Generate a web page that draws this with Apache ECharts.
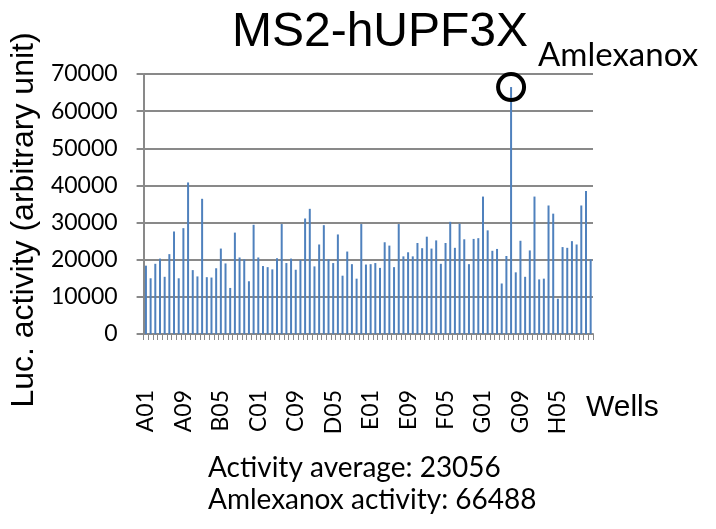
<!DOCTYPE html>
<html>
<head>
<meta charset="utf-8">
<script src="https://cdn.jsdelivr.net/npm/echarts@6/dist/echarts.min.js"></script>
<style>
  html, body { margin: 0; padding: 0; background: #fff; }
  #main { width: 716px; height: 529px; }
</style>
</head>
<body>
<div id="main"></div>
<script>
// plate layout: rows A-H, columns 01-12
var rows = ['A', 'B', 'C', 'D', 'E', 'F', 'G', 'H'];
var cols = ['01', '02', '03', '04', '05', '06', '07', '08', '09', '10', '11', '12'];
var wells = [];
rows.forEach(function (r) {
    cols.forEach(function (c) { wells.push(r + c); });
});

// luciferase activity per well
var activity = [
    18400, 15000, 18900, 20300, 15400, 21500, 27600, 15000, 28500, 40800, 17200, 15500,
    36400, 15300, 15200, 17700, 23000, 19000, 12400, 27300, 20600, 20100, 14200, 29400,
    20600, 18300, 18000, 17400, 20400, 29600, 19100, 20300, 17300, 19900, 31100, 33700,
    18200, 24100, 29300, 20100, 19100, 26800, 15700, 22200, 18800, 14900, 29600, 18700,
    18800, 19100, 17800, 24700, 23800, 18000, 29600, 20900, 22000, 20900, 24500, 23100,
    26200, 23000, 25200, 18900, 24500, 30200, 23200, 29700, 25500, 18800, 25600, 25800,
    37000, 27900, 22400, 22900, 13600, 21000, 66488, 16600, 25100, 15400, 22500, 37000,
    14700, 14900, 34600, 32400, 9500, 23400, 23200, 25000, 24100, 34600, 38500, 20100
];

var hitWell = 'G07';
var hitName = 'Amlexanox';
var averageText = 'Activity average: 23056';
var hitText = 'Amlexanox activity: 66488';

var yTicks = { min: 0, max: 70000, interval: 10000 };

var grey = '#898989';
var chart = echarts.init(document.getElementById('main'));

chart.setOption({
    animation: false,
    title: {
        text: 'MS2-hUPF3X',
        left: 375,
        top: 4,
        textAlign: 'center',
        textStyle: { fontFamily: 'Liberation Sans', fontSize: 48, fontWeight: 'normal', color: '#000' }
    },
    grid: { left: 143, right: 123, top: 74, bottom: 195 },
    xAxis: {
        type: 'category',
        data: wells,
        axisLine: { lineStyle: { color: grey, width: 2 } },
        axisTick: { show: true, interval: 0, length: 6, lineStyle: { color: grey, width: 1 } },
        axisLabel: {
            interval: 7,
            rotate: 90,
            margin: 56,
            fontFamily: 'Lato',
            fontSize: 23,
            color: '#000'
        }
    },
    yAxis: {
        type: 'value',
        min: yTicks.min,
        max: yTicks.max,
        interval: yTicks.interval,
        name: 'Luc. activity (arbitrary unit)',
        nameLocation: 'middle',
        nameGap: 101,
        nameTextStyle: { fontFamily: 'Liberation Sans', fontSize: 32, color: '#000', padding: [0, 32, 0, 0] },
        axisLine: { show: true, lineStyle: { color: grey, width: 2 } },
        axisTick: { show: true, length: 7, lineStyle: { color: grey, width: 2 } },
        axisLabel: {
            margin: 26, fontFamily: 'Lato', fontSize: 23, color: '#000',
            formatter: function (v) { return String(v); }
        },
        splitLine: { lineStyle: { color: grey, width: 2 } }
    },
    series: [{
        type: 'bar',
        data: activity,
        barWidth: 2,
        itemStyle: { color: '#4f81bd' },
        markPoint: {
            symbol: 'circle',
            symbolSize: 26,
            label: { show: false },
            itemStyle: { color: 'rgba(0,0,0,0)', borderColor: '#000', borderWidth: 4 },
            data: [{ coord: [hitWell, activity[wells.indexOf(hitWell)]] }]
        }
    }],
    graphic: [
        {
            type: 'text',
            style: { text: 'Wells', x: 586, y: 408, textVerticalAlign: 'middle', font: '30px "Liberation Sans"', fill: '#000' }
        },
        {
            type: 'text',
            style: { text: hitName, x: 538, y: 55, textVerticalAlign: 'middle', font: '33px Lato', fill: '#000' }
        },
        {
            type: 'text',
            style: { text: averageText, x: 208, y: 468, textVerticalAlign: 'middle', font: '28px Lato', fill: '#000' }
        },
        {
            type: 'text',
            style: { text: hitText, x: 208, y: 500, textVerticalAlign: 'middle', font: '28px Lato', fill: '#000' }
        }
    ]
});
</script>
</body>
</html>
